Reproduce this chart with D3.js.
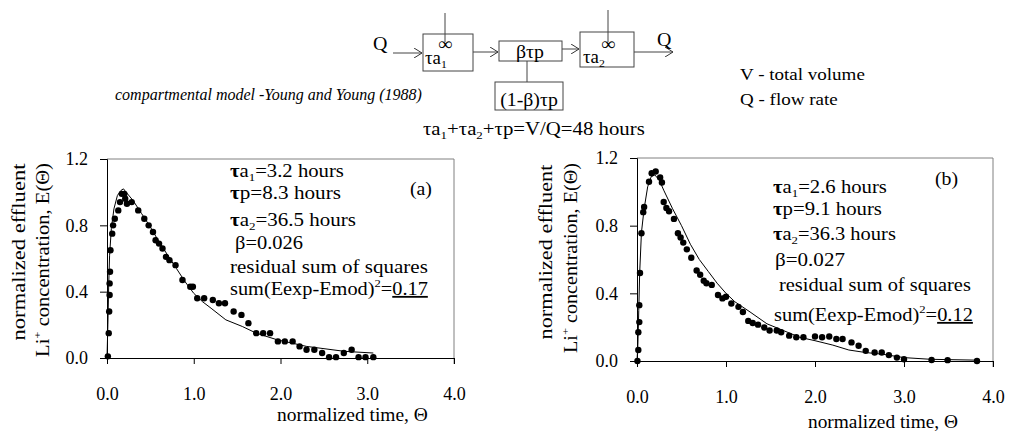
<!DOCTYPE html>
<html>
<head>
<meta charset="utf-8">
<script src="https://cdn.jsdelivr.net/npm/d3@7"></script>
<style>
  body { margin: 0; background: #fff; }
  svg { display: block; font-family: "Liberation Serif", "Times New Roman", Times, serif; }
</style>
</head>
<body>
<svg id="fig" width="1009" height="434"></svg>
<script>
// ---- data ----
// panel (a): experimental points
const aExpTheta = [0.01, 0.02, 0.025, 0.03, 0.03, 0.035, 0.04, 0.06, 0.07, 0.09, 0.13, 0.15, 0.17, 0.20, 0.21, 0.23,
  0.285, 0.36, 0.43, 0.48, 0.53, 0.56, 0.60, 0.64, 0.68, 0.72, 0.79, 0.87, 0.96, 0.99, 1.04, 1.12, 1.22, 1.29, 1.36,
  1.46, 1.55, 1.63, 1.72, 1.80, 1.88, 1.97, 2.05, 2.14, 2.22, 2.30, 2.39, 2.48, 2.56, 2.64, 2.73, 2.82, 2.90, 2.98, 3.07];
const aExpE = [0.01, 0.15, 0.28, 0.38, 0.45, 0.52, 0.65, 0.75, 0.80, 0.84, 0.89, 0.94, 0.99, 0.99, 0.96, 0.93,
  0.94, 0.89, 0.84, 0.80, 0.76, 0.71, 0.69, 0.66, 0.61, 0.59, 0.56, 0.47, 0.43, 0.43, 0.36, 0.36, 0.35, 0.33, 0.33,
  0.28, 0.26, 0.21, 0.15, 0.15, 0.15, 0.10, 0.10, 0.10, 0.07, 0.05, 0.05, 0.03, 0.005, 0.005, 0.03, 0.05, 0.005, 0.005, 0.005];
// panel (a): model curve
const aModTheta = [0, 0.01, 0.02, 0.03, 0.05, 0.08, 0.12, 0.16, 0.19, 0.22, 0.3, 0.4, 0.5, 0.6, 0.7, 0.8, 0.9, 1.0,
  1.1, 1.2, 1.37, 1.56, 1.72, 1.96, 2.3, 2.74, 3.07];
const aModE = [0, 0.2, 0.45, 0.62, 0.78, 0.9, 0.98, 1.01, 1.02, 1.0, 0.95, 0.87, 0.79, 0.70, 0.62, 0.54, 0.46, 0.39,
  0.34, 0.30, 0.23, 0.19, 0.15, 0.11, 0.07, 0.04, 0.03];

// panel (b): experimental points
const bExpTheta = [0.005, 0.015, 0.015, 0.026, 0.026, 0.034, 0.05, 0.07, 0.08, 0.135, 0.165, 0.21, 0.26, 0.28, 0.30,
  0.33, 0.36, 0.415, 0.46, 0.49, 0.52, 0.56, 0.61, 0.67, 0.71, 0.75, 0.78, 0.84, 0.91, 0.96, 1.0, 1.06, 1.14, 1.19,
  1.25, 1.30, 1.36, 1.43, 1.49, 1.57, 1.62, 1.71, 1.79, 1.87, 2.0, 2.08, 2.16, 2.24, 2.31, 2.41, 2.49, 2.57, 2.67,
  2.75, 2.83, 2.92, 3.0, 3.31, 3.49, 3.82];
const bExpE = [0.0, 0.065, 0.17, 0.23, 0.33, 0.52, 0.755, 0.88, 0.91, 1.06, 1.11, 1.12, 1.085, 1.055, 0.94,
  0.905, 0.885, 0.84, 0.755, 0.73, 0.70, 0.66, 0.61, 0.535, 0.51, 0.475, 0.46, 0.45, 0.39, 0.37, 0.38, 0.34, 0.32, 0.29,
  0.237, 0.225, 0.215, 0.198, 0.18, 0.18, 0.17, 0.15, 0.14, 0.14, 0.145, 0.14, 0.145, 0.13, 0.13, 0.11, 0.09, 0.06, 0.05,
  0.05, 0.035, 0.02, 0.01, 0.006, 0.005, 0.0];
// panel (b): model curve
const bModTheta = [0, 0.01, 0.02, 0.03, 0.05, 0.08, 0.12, 0.16, 0.2, 0.25, 0.3, 0.4, 0.5, 0.6, 0.7, 0.8, 0.9, 1.0,
  1.1, 1.27, 1.46, 1.83, 2.0, 2.2, 2.38, 2.57, 2.76, 3.0, 3.3, 3.82];
const bModE = [0, 0.1, 0.3, 0.52, 0.76, 0.9, 1.03, 1.09, 1.10, 1.07, 1.01, 0.90, 0.80, 0.69, 0.60, 0.53, 0.46, 0.40,
  0.35, 0.29, 0.22, 0.14, 0.12, 0.094, 0.065, 0.05, 0.04, 0.02, 0.01, 0.005];

// fitted parameters: tau a1, tau p, tau a2, beta, residual
const aParams = ["3.2", "8.3", "36.5", "0.026", "0.17"];
const bParams = ["2.6", "9.1", "36.3", "0.027", "0.12"];

const yTicks = [0, 0.4, 0.8, 1.2];
const xTicks = [0, 1, 2, 3, 4];

const svg = d3.select('#fig');

// text with sub/superscripts, stretched a bit wider like the original
function label(x, y, parts, o = {}) {
  const size = o.size || 18;
  const t = svg.append('text')
    .attr('font-size', size)
    .attr('text-anchor', o.anchor || 'start')
    .attr('font-style', o.italic ? 'italic' : null);
  let shift = 0;
  parts.forEach(p => {
    if (typeof p === 'string') p = { t: p };
    const s = p.sub ? size * 0.2 : p.sup ? -size * 0.42 : 0;
    const sp = t.append('tspan').text(p.t).attr('dy', s - shift);
    shift = s;
    if (p.sub || p.sup) sp.attr('font-size', size * 0.62);
    if (p.b) sp.attr('font-weight', 'bold');
    if (p.u) sp.attr('text-decoration', 'underline');
  });
  let sx = o.sx || 1.12;
  if (o.w) sx = o.w / t.node().getComputedTextLength();
  t.attr('transform', `translate(${x},${y})${o.rot ? ' rotate(-90)' : ''} scale(${sx},1)`);
  return t;
}

// ---- model diagram at the top ----
svg.append('defs').append('marker')
  .attr('id', 'arr').attr('viewBox', '0 0 10 10').attr('refX', 9).attr('refY', 5)
  .attr('markerWidth', 10).attr('markerHeight', 10).attr('markerUnits', 'userSpaceOnUse')
  .attr('orient', 'auto')
  .append('path').attr('d', 'M1,0L9,5L1,10').attr('fill', 'none').attr('stroke', '#333');

const dg = svg.append('g').attr('stroke', '#444').attr('fill', 'none');
const arrow = (x1, x2, yy) => dg.append('line').attr('x1', x1).attr('x2', x2).attr('y1', yy).attr('y2', yy)
  .attr('marker-end', 'url(#arr)');
arrow(393, 422, 53);
arrow(473, 498, 52);
arrow(562, 579, 49);
arrow(634, 673, 52);
dg.append('rect').attr('x', 423).attr('y', 34).attr('width', 50).attr('height', 37);
dg.append('rect').attr('x', 499).attr('y', 41).attr('width', 63).attr('height', 20);
dg.append('rect').attr('x', 580).attr('y', 32).attr('width', 54).attr('height', 35);
dg.append('rect').attr('x', 495).attr('y', 82).attr('width', 68).attr('height', 28);
dg.append('line').attr('x1', 445).attr('x2', 445).attr('y1', 13).attr('y2', 42);
dg.append('line').attr('x1', 608).attr('x2', 608).attr('y1', 10).attr('y2', 42);
dg.append('line').attr('x1', 527).attr('x2', 527).attr('y1', 61).attr('y2', 82);

label(373, 50, ['Q'], { size: 19, sx: 1.05 });
label(657, 46, ['Q'], { size: 19, sx: 1.05 });
label(445, 50, ['∞'], { anchor: 'middle', sx: 1.1 });
label(608, 50, ['∞'], { anchor: 'middle', sx: 1.1 });
label(425, 64, ['τa', { t: '1', sub: 1 }], { sx: 1.05 });
label(583, 63, ['τa', { t: '2', sub: 1 }], { sx: 1.05 });
label(530, 58, ['βτp'], { anchor: 'middle', sx: 1.1 });
label(529, 106, ['(1-β)τp'], { anchor: 'middle', sx: 1.1 });

label(115, 100, ['compartmental model -Young and Young (1988)'], { italic: 1, size: 16, w: 307 });
label(740, 80, ['V - total volume'], { size: 17 });
label(740, 105, ['Q - flow rate'], { size: 17 });
label(423, 135, ['τa', { t: '1', sub: 1 }, '+τa', { t: '2', sub: 1 }, '+τp=V/Q=48 hours'], { w: 222 });

// ---- panels ----
function panel(p) {
  const x = d3.scaleLinear().domain([0, 4]).range([p.left, p.right]);
  const y = d3.scaleLinear().domain([0, 1.2]).range([p.bottom, p.top]);
  const g = svg.append('g');

  // plot area border (top & right)
  g.append('path')
    .attr('d', `M${x(0)},${y(1.2)}H${x(4)}V${y(0) + 6}`)
    .attr('fill', 'none').attr('stroke', '#808080');

  const ya = g.append('g').attr('transform', `translate(${x(0)},0)`)
    .call(d3.axisLeft(y).tickValues(yTicks).tickFormat(d3.format('.1f'))
      .tickSizeOuter(0).tickSize(7).tickPadding(12));
  const xa = g.append('g').attr('transform', `translate(0,${y(0)})`)
    .call(d3.axisBottom(x).tickValues(xTicks).tickFormat(d3.format('.1f'))
      .tickSizeOuter(0).tickSize(6).tickPadding(23));
  [ya, xa].forEach(a => {
    a.attr('font-family', null).attr('font-size', 18);
    a.selectAll('path, line').attr('stroke', '#000');
  });

  // model line
  const curve = p.modT.map((t, i) => [t, p.modE[i]]);
  g.append('path').datum(curve)
    .attr('fill', 'none').attr('stroke', '#000').attr('stroke-width', 1)
    .attr('d', d3.line().x(d => x(d[0])).y(d => y(d[1])));

  // experimental points
  const pts = p.expT.map((t, i) => [t, p.expE[i]]);
  g.selectAll('circle.pt').data(pts).enter().append('circle')
    .attr('class', 'pt')
    .attr('cx', d => x(d[0])).attr('cy', d => y(d[1])).attr('r', 3.2)
    .attr('fill', '#000');
}

panel({ left: 107, right: 454, top: 159, bottom: 358, expT: aExpTheta, expE: aExpE, modT: aModTheta, modE: aModE });
panel({ left: 637, right: 993, top: 158, bottom: 361, expT: bExpTheta, expE: bExpE, modT: bModTheta, modE: bModE });

// axis titles
label(25, 252, ['normalized effluent'], { rot: 1, anchor: 'middle', w: 177 });
label(49, 260, ['Li', { t: '+', sup: 1 }, ' concentration, E(Θ)'], { rot: 1, anchor: 'middle', w: 194 });
label(552, 252, ['normalized effluent'], { rot: 1, anchor: 'middle', w: 175 });
label(577, 258, ['Li', { t: '+', sup: 1 }, ' concentration, E(Θ)'], { rot: 1, anchor: 'middle', w: 190 });
label(277, 421, ['normalized time, Θ'], { w: 151 });
label(808, 428, ['normalized time, Θ'], { w: 150 });

// parameter annotations
function notes(pr, x0, rows, widths) {
  const lines = [
    [{ t: 'τ', b: 1 }, 'a', { t: '1', sub: 1 }, `=${pr[0]} hours`],
    [{ t: 'τ', b: 1 }, `p=${pr[1]} hours`],
    [{ t: 'τ', b: 1 }, 'a', { t: '2', sub: 1 }, `=${pr[2]} hours`],
    [`β=${pr[3]}`],
    [rows.resid],
    ['sum(Eexp-Emod)', { t: '2', sup: 1 }, '=', { t: pr[4], u: 1 }]
  ];
  lines.forEach((ln, i) => label(x0[i], rows.y[i], ln, { w: widths[i] }));
}
notes(aParams, [230, 230, 230, 235, 230, 230],
  { y: [177, 199, 226, 249, 273, 295], resid: 'residual  sum of squares' },
  [114, 111, 126, 68, 198, 198]);
notes(bParams, [773, 773, 773, 775, 779, 774],
  { y: [193, 215, 240, 266, 291, 321], resid: 'residual sum of squares' },
  [114, 109, 123, 70, 192, 199]);

label(410, 195, ['(a)'], { sx: 1.1 });
label(935, 185, ['(b)'], { sx: 1.1 });
</script>
</body>
</html>
